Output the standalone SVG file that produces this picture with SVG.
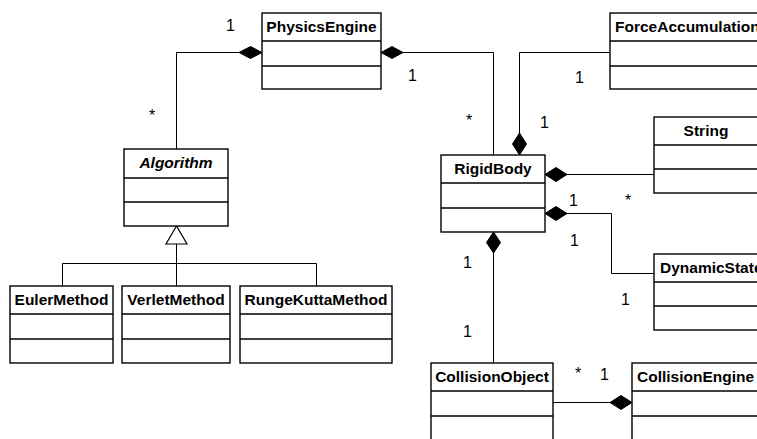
<svg xmlns="http://www.w3.org/2000/svg" width="757" height="439" viewBox="0 0 757 439">
  <style>
    .box { fill: #ffffff; stroke: #000000; stroke-width: 1.4; }
    .sep { stroke: #000000; stroke-width: 1.4; }
    .title { font-family: "Liberation Sans", Arial, sans-serif; font-size: 15.5px; font-weight: bold; fill: #000000; }
    .center { text-anchor: middle; }
    .abstract { font-style: italic; }
    .edge { fill: none; stroke: #000000; stroke-width: 1; }
    .diamond { fill: #000000; stroke: #000000; stroke-width: 1; }
    .triangle { fill: #ffffff; stroke: #000000; stroke-width: 1.2; }
    .mult { font-family: "Liberation Sans", Arial, sans-serif; font-size: 16px; fill: #000000; }
  </style>

  <!-- connectors drawn first so class boxes sit on top -->
  <g id="connectors">
    <!-- PhysicsEngine <>— Algorithm -->
    <polyline class="edge" points="239,52.5 176.5,52.5 176.5,149"/>
    <polygon class="diamond" points="262,52.5 250.5,46.5 239,52.5 250.5,58.5"/>
    <!-- PhysicsEngine <>— RigidBody -->
    <polyline class="edge" points="403,52.5 493.5,52.5 493.5,155"/>
    <polygon class="diamond" points="381,52.5 392,46.5 403,52.5 392,58.5"/>
    <!-- RigidBody <>— ForceAccumulation -->
    <polyline class="edge" points="610,52.5 519.5,52.5 519.5,133"/>
    <polygon class="diamond" points="519.5,155 512.5,144 519.5,133 526.5,144"/>
    <!-- RigidBody <>— String -->
    <line class="edge" x1="567" y1="174.5" x2="654" y2="174.5"/>
    <polygon class="diamond" points="545,174.5 556,167.5 567,174.5 556,181.5"/>
    <!-- RigidBody <>— DynamicState -->
    <polyline class="edge" points="567,213.5 611.5,213.5 611.5,273.5 654,273.5"/>
    <polygon class="diamond" points="545,213.5 556,206.5 567,213.5 556,220.5"/>
    <!-- RigidBody <>— CollisionObject -->
    <line class="edge" x1="493.5" y1="253" x2="493.5" y2="363"/>
    <polygon class="diamond" points="493.5,232 500.5,242.5 493.5,253 486.5,242.5"/>
    <!-- CollisionEngine <>— CollisionObject -->
    <line class="edge" x1="553" y1="402.5" x2="610" y2="402.5"/>
    <polygon class="diamond" points="632,402.5 621,395.5 610,402.5 621,409.5"/>
    <!-- generalisation tree under Algorithm -->
    <polyline class="edge" points="62.5,286 62.5,263.5 316.5,263.5 316.5,286"/>
    <line class="edge" x1="176.5" y1="244" x2="176.5" y2="286"/>
    <polygon class="triangle" points="176.5,226 166,244 187,244"/>
  </g>

  <!-- multiplicities -->
  <g id="multiplicities">
    <text class="mult" x="226" y="31">1</text>
    <text class="mult" x="149" y="121">*</text>
    <text class="mult" x="408" y="81">1</text>
    <text class="mult" x="466" y="126">*</text>
    <text class="mult" x="575" y="83">1</text>
    <text class="mult" x="540" y="128">1</text>
    <text class="mult" x="569" y="206">1</text>
    <text class="mult" x="625" y="206">*</text>
    <text class="mult" x="570" y="246">1</text>
    <text class="mult" x="463" y="268">1</text>
    <text class="mult" x="463" y="337">1</text>
    <text class="mult" x="621" y="305">1</text>
    <text class="mult" x="575" y="379">*</text>
    <text class="mult" x="600" y="380">1</text>
  </g>

  <g id="PhysicsEngine">
    <rect class="box" x="262" y="13" width="119" height="76"/>
    <line class="sep" x1="262" y1="41" x2="381" y2="41"/>
    <line class="sep" x1="262" y1="66" x2="381" y2="66"/>
    <text class="title center" x="321.5" y="32">PhysicsEngine</text>
  </g>

  <g id="ForceAccumulation">
    <rect class="box" x="610" y="13" width="152" height="76"/>
    <line class="sep" x1="610" y1="41" x2="762" y2="41"/>
    <line class="sep" x1="610" y1="66" x2="762" y2="66"/>
    <text class="title" x="615" y="32">ForceAccumulation</text>
  </g>

  <g id="Algorithm">
    <rect class="box" x="124" y="149" width="104" height="77"/>
    <line class="sep" x1="124" y1="178" x2="228" y2="178"/>
    <line class="sep" x1="124" y1="202" x2="228" y2="202"/>
    <text class="title center abstract" x="176" y="168">Algorithm</text>
  </g>

  <g id="RigidBody">
    <rect class="box" x="441" y="155" width="104" height="77"/>
    <line class="sep" x1="441" y1="183" x2="545" y2="183"/>
    <line class="sep" x1="441" y1="208" x2="545" y2="208"/>
    <text class="title center" x="493" y="174">RigidBody</text>
  </g>

  <g id="String">
    <rect class="box" x="654" y="117" width="105" height="76"/>
    <line class="sep" x1="654" y1="145" x2="759" y2="145"/>
    <line class="sep" x1="654" y1="169" x2="759" y2="169"/>
    <text class="title center" x="706" y="136">String</text>
  </g>

  <g id="DynamicState">
    <rect class="box" x="654" y="254" width="112" height="76"/>
    <line class="sep" x1="654" y1="282" x2="766" y2="282"/>
    <line class="sep" x1="654" y1="306" x2="766" y2="306"/>
    <text class="title" x="660" y="273">DynamicState</text>
  </g>

  <g id="EulerMethod">
    <rect class="box" x="10" y="286" width="103" height="77"/>
    <line class="sep" x1="10" y1="314" x2="113" y2="314"/>
    <line class="sep" x1="10" y1="339" x2="113" y2="339"/>
    <text class="title center" x="61.5" y="305">EulerMethod</text>
  </g>

  <g id="VerletMethod">
    <rect class="box" x="122" y="286" width="108" height="77"/>
    <line class="sep" x1="122" y1="314" x2="230" y2="314"/>
    <line class="sep" x1="122" y1="339" x2="230" y2="339"/>
    <text class="title center" x="176" y="305">VerletMethod</text>
  </g>

  <g id="RungeKuttaMethod">
    <rect class="box" x="240" y="286" width="152" height="77"/>
    <line class="sep" x1="240" y1="314" x2="392" y2="314"/>
    <line class="sep" x1="240" y1="339" x2="392" y2="339"/>
    <text class="title center" x="316" y="305">RungeKuttaMethod</text>
  </g>

  <g id="CollisionObject">
    <rect class="box" x="431" y="363" width="122" height="80"/>
    <line class="sep" x1="431" y1="391" x2="553" y2="391"/>
    <line class="sep" x1="431" y1="416" x2="553" y2="416"/>
    <text class="title center" x="492" y="382">CollisionObject</text>
  </g>

  <g id="CollisionEngine">
    <rect class="box" x="632" y="363" width="130" height="80"/>
    <line class="sep" x1="632" y1="391" x2="762" y2="391"/>
    <line class="sep" x1="632" y1="416" x2="762" y2="416"/>
    <text class="title" x="637" y="382">CollisionEngine</text>
  </g>
</svg>
